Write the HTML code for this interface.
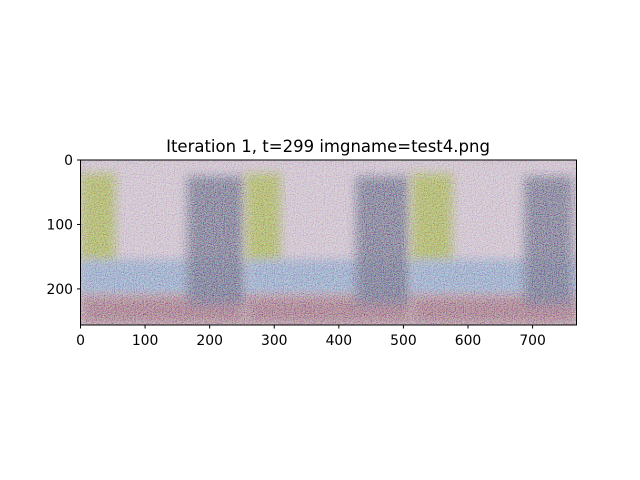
<!DOCTYPE html>
<html><head><meta charset="utf-8"><style>
html,body{margin:0;padding:0;background:#fff;}
svg{display:block;font-family:"DejaVu Sans","Liberation Sans",sans-serif;}
</style></head><body>
<svg id="chart" width="640" height="480" viewBox="0 0 640 480">
<defs>
<filter id="noise" x="0" y="0" width="100%" height="100%">
<feTurbulence type="fractalNoise" baseFrequency="0.9" numOctaves="2" seed="3" result="t"/>
<feColorMatrix in="t" type="matrix" values="2.6 0 0 0 -0.8  0 2.6 0 0 -0.8  0 0 2.6 0 -0.8  0 0 0 0 1"/>
</filter>
<filter id="blur" x="-20%" y="-20%" width="140%" height="140%"><feGaussianBlur stdDeviation="5"/></filter>
<clipPath id="clip"><rect x="80.5" y="160" width="496" height="165"/></clipPath>
</defs>
<rect width="640" height="480" fill="#fff"/>
<text x="328" y="152" text-anchor="middle" font-size="16.5" fill="#000">Iteration 1, t=299 imgname=test4.png</text>
<g id="image" clip-path="url(#clip)"></g>
<rect x="80.5" y="160" width="496" height="165" fill="none" stroke="#000" stroke-width="1"/>
<g id="xticks"></g>
<g id="yticks"></g>
</svg>
<script>
const xTicks=[0,100,200,300,400,500,600,700];
const yTicks=[0,100,200];
const imgW=768, imgH=256;
const panelOffsets=[0,256,512];
const blockX=[[165,256],[170,255],[175,250]];
const yellowX=[[0,55],[0,55],[0,65]];
const NS="http://www.w3.org/2000/svg";
const L=80.5,T=160,W=496,H=165;
const sx=v=>L+v*W/imgW, sy=v=>T+v*H/imgH;
const g=document.getElementById('image');
function rect(x0,y0,x1,y1,fill,name,blur,op){
  const r=document.createElementNS(NS,'rect');
  r.setAttribute('x',sx(x0));r.setAttribute('y',sy(y0));
  r.setAttribute('width',sx(x1)-sx(x0));r.setAttribute('height',sy(y1)-sy(y0));
  r.setAttribute('fill',fill);
  if(op)r.setAttribute('opacity',op);
  if(blur)r.setAttribute('filter','url(#blur)');
  
  
  g.appendChild(r);
}
rect(0,0,imgW,imgH,'#c4b6c4','image-base',false);
panelOffsets.forEach((o,i)=>{
  rect(o,0,o+256,160,'#cabcca','top-background',true);
  rect(o+yellowX[i][0],20,o+yellowX[i][1],160,'#a4b05c','yellow-region',true,0.85);
  rect(o,155,o+256,210,'#94a6c6','blue-band',true);
  rect(o,210,o+256,256,'#a27a8a','bottom-region',true);
  rect(o+blockX[i][0],25,o+blockX[i][1],225,'#74748e','dark-block',true,0.9);
});
const n=document.createElementNS(NS,'rect');
n.setAttribute('x',L);n.setAttribute('y',T);n.setAttribute('width',W);n.setAttribute('height',H);
n.setAttribute('filter','url(#noise)');n.setAttribute('opacity','0.5');
n.setAttribute('style','mix-blend-mode:overlay');


g.appendChild(n);
const xg=document.getElementById('xticks');
xTicks.forEach(v=>{
  const x=sx(v);
  const l=document.createElementNS(NS,'line');
  l.setAttribute('x1',x);l.setAttribute('x2',x);l.setAttribute('y1',325);l.setAttribute('y2',328.5);l.setAttribute('stroke','#000');
  
  
  xg.appendChild(l);
  const t=document.createElementNS(NS,'text');
  t.setAttribute('x',x);t.setAttribute('y',345);t.setAttribute('text-anchor','middle');t.setAttribute('font-size','13.9');
  t.textContent=v;
  
  
  xg.appendChild(t);
});
const yg=document.getElementById('yticks');
yTicks.forEach(v=>{
  const y=sy(v);
  const l=document.createElementNS(NS,'line');
  l.setAttribute('x1',77);l.setAttribute('x2',80.5);l.setAttribute('y1',y);l.setAttribute('y2',y);l.setAttribute('stroke','#000');
  
  
  yg.appendChild(l);
  const t=document.createElementNS(NS,'text');
  t.setAttribute('x',73);t.setAttribute('y',y+5);t.setAttribute('text-anchor','end');t.setAttribute('font-size','13.9');
  t.textContent=v;
  
  
  yg.appendChild(t);
});
</script>
</body></html>
